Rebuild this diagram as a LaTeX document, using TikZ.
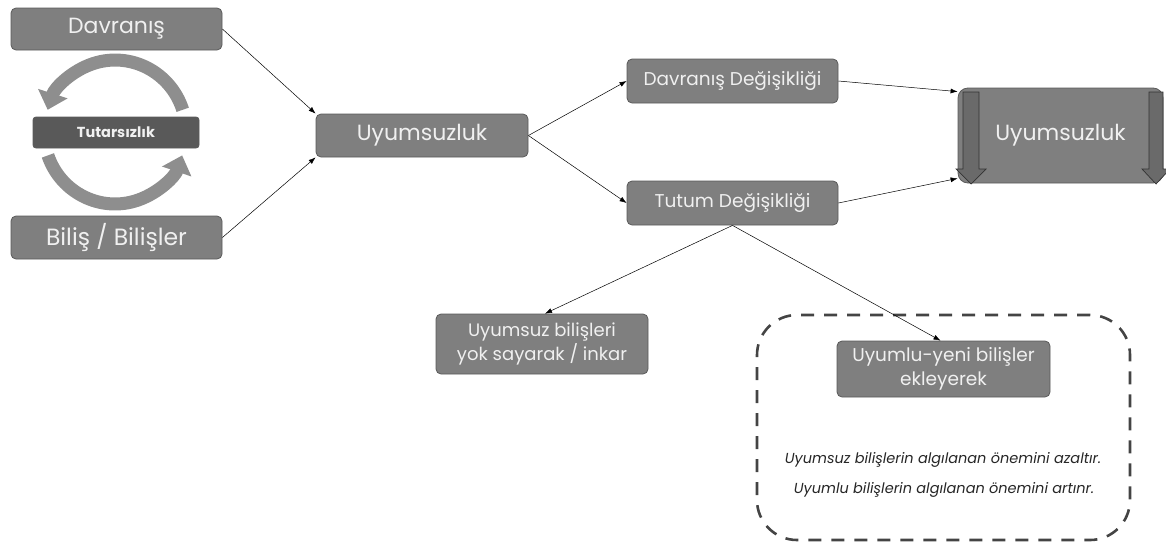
\documentclass[tikz,border=0pt]{standalone}
\usepackage{fontspec}
\setmainfont{Poppins}
\usetikzlibrary{arrows.meta,calc}
\definecolor{boxfill}{HTML}{7F7F7F}
\definecolor{boxline}{HTML}{5A5A5A}
\definecolor{darkfill}{HTML}{595959}
\definecolor{txt}{HTML}{F0F0F0}
\definecolor{cycgray}{HTML}{8E8E8E}
\definecolor{downfill}{HTML}{6A6A6A}
\definecolor{dashcol}{HTML}{444444}
\tikzset{
  gbox/.style={draw=boxline, line width=0.8pt, fill=boxfill, rounded corners=5pt,
    text=txt, align=center, inner sep=0pt},
  conn/.style={draw=black, line width=0.5pt, -{Latex[length=7pt,width=5pt]}},
  cyc/.style={draw=cycgray, line width=13pt, -{Triangle[width=30pt,length=17pt]}},
  downarr/.style={fill=downfill, draw=black!80, line width=0.7pt},
  infotext/.style={font=\itshape\fontsize{14.5}{17}\selectfont, text=black!85}
}
\begin{document}
\begin{tikzpicture}[x=1pt,y=-1pt]
\useasboundingbox (0,0) rectangle (1166,552);
% left cycle
\draw[cyc] (182.7,109.8) arc[start angle=-18, end angle=-162, x radius=71, y radius=72];
\draw[cyc] (47.9,155.4) arc[start angle=161, end angle=19, x radius=71, y radius=72];
% nodes
\node[gbox, minimum width=211pt, minimum height=42pt, font=\fontsize{22}{26}\selectfont] (dav) at (116.5,29) {Davranış};
\node[gbox, minimum width=211pt, minimum height=43pt, font=\fontsize{23.5}{28}\selectfont] (bil) at (116.5,237.5) {Biliş / Bilişler};
\node[gbox, fill=darkfill, minimum width=166pt, minimum height=31pt, rounded corners=3pt, font=\bfseries\fontsize{14.5}{17}\selectfont, text=txt] (tut) at (116,132.5) {Tutarsızlık};
\node[gbox, minimum width=212pt, minimum height=43pt, font=\fontsize{22}{26}\selectfont] (uy) at (422,135.5) {Uyumsuzluk};
\node[gbox, minimum width=211pt, minimum height=44pt, font=\fontsize{18.5}{22}\selectfont] (dd) at (732.5,81) {Davranış Değişikliği};
\node[gbox, minimum width=211pt, minimum height=44pt, font=\fontsize{18.5}{22}\selectfont] (td) at (732.5,203) {Tutum Değişikliği};
\node[gbox, minimum width=212pt, minimum height=60pt, font=\fontsize{18}{24}\selectfont] (ub) at (542,344) {Uyumsuz bilişleri\\yok sayarak / inkar};
\node[gbox, minimum width=213pt, minimum height=56pt, font=\fontsize{18.5}{24}\selectfont] (uyb) at (943.5,369) {Uyumlu-yeni bilişler\\ekleyerek};
\node[gbox, rounded corners=10pt, minimum width=205pt, minimum height=95pt] (big) at (1060.5,135.5) {};
% down arrows inside big box
\draw[downarr] (963,92) -- (979,92) -- (979,169) -- (986,169) -- (971,184) -- (956,169) -- (963,169) -- cycle;
\draw[downarr] (1149,92) -- (1163,92) -- (1163,169) -- (1170,169) -- (1156,184) -- (1142,169) -- (1149,169) -- cycle;
\node[text=txt, font=\fontsize{22}{26}\selectfont] (bigt) at (big.center) {Uyumsuzluk};
% dashed group
\node[draw=dashcol, line width=2.6pt, dash pattern=on 13pt off 10pt, rounded corners=40pt,
  minimum width=373pt, minimum height=225pt, inner sep=0pt] (grp) at (943.5,427.5) {};
\node[infotext] (t1) at (943,460) {Uyumsuz bilişlerin algılanan önemini azaltır.};
\node[infotext] (t2) at (944,490) {Uyumlu bilişlerin algılanan önemini artınr.};
% connectors
\draw[conn] (dav.east) -- (uy.north west);
\draw[conn] (bil.east) -- (uy.south west);
\draw[conn] (uy.east) -- (dd.west);
\draw[conn] (uy.east) -- (td.west);
\draw[conn] (dd.east) -- ($(big.north west)+(0,4)$);
\draw[conn] (td.east) -- ($(big.south west)+(0,-5)$);
\draw[conn] (td.south) -- ($(ub.north)+(3,0)$);
\draw[conn] (td.south) -- ($(uyb.north)+(-3,0)$);
\end{tikzpicture}
\end{document}
